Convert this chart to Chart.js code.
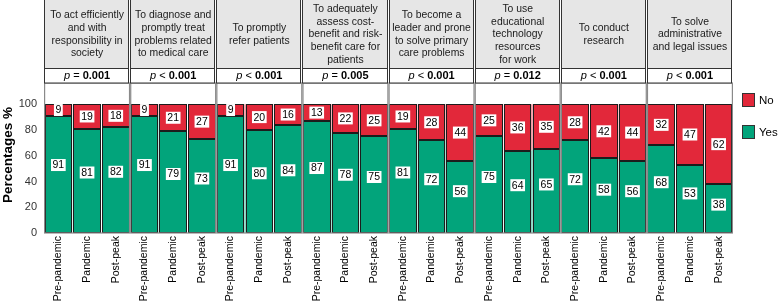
<!DOCTYPE html>
<html>
<head>
<meta charset="utf-8">
<script src="https://cdn.jsdelivr.net/npm/chart.js@4.4.1/dist/chart.umd.min.js"></script>
<style>
  html, body { margin: 0; padding: 0; background: #fff; }
</style>
</head>
<body>
<canvas id="chart" width="778" height="301"></canvas>
<script>
const panelTitles = [
    ['To act efficiently', 'and with', 'responsibility in', 'society'],
    ['To diagnose and', 'promptly treat', 'problems related', 'to medical care'],
    ['To promptly', 'refer patients'],
    ['To adequately', 'assess cost-', 'benefit and risk-', 'benefit care for', 'patients'],
    ['To become a', 'leader and prone', 'to solve primary', 'care problems'],
    ['To use', 'educational', 'technology', 'resources', 'for work'],
    ['To conduct', 'research'],
    ['To solve', 'administrative', 'and legal issues']
];
const pSigns = ['=', '<', '<', '=', '<', '=', '<', '<'];
const pValues = ['0.001', '0.001', '0.001', '0.005', '0.001', '0.012', '0.001', '0.001'];
const periods = ['Pre-pandemic', 'Pandemic', 'Post-peak'];

// three bars per panel, in panel order
const yesValues = [91, 81, 82, 91, 79, 73, 91, 80, 84, 87, 78, 75, 81, 72, 56, 75, 64, 65, 72, 58, 56, 68, 53, 38];
const noValues = [9, 19, 18, 9, 21, 27, 9, 20, 16, 13, 22, 25, 19, 28, 44, 25, 36, 35, 28, 42, 44, 32, 47, 62];

const green = '#02a47b';
const red = '#e2283a';
const outline = '#1c1c1c';
const family = '"Liberation Sans", Arial, Helvetica, sans-serif';

Chart.defaults.font.family = family;

const labels = [];
panelTitles.forEach(() => periods.forEach(p => labels.push(p)));

const facetPlugin = {
    id: 'facets',
    afterDatasetsDraw(chart) {
        const { ctx, chartArea: a, scales: { x, y } } = chart;
        const pw = (a.right - a.left) / panelTitles.length;
        ctx.save();

        // bar outlines
        ctx.strokeStyle = outline;
        ctx.lineWidth = 1;
        chart.data.datasets.forEach((ds, di) => {
            chart.getDatasetMeta(di).data.forEach(bar => {
                const p = bar.getProps(['x', 'y', 'base', 'width'], true);
                const left = Math.round(p.x - p.width / 2) + 0.5;
                const right = Math.round(p.x + p.width / 2) - 0.5;
                const top = Math.round(p.y) + 0.5;
                const bottom = Math.round(p.base) - 0.5;
                ctx.strokeRect(left, top, right - left, bottom - top);
            });
        });

        // panel borders
        ctx.strokeStyle = '#8a8a8a';
        ctx.lineWidth = 1.2;
        for (let k = 0; k < panelTitles.length; k++) {
            const x0 = a.left + k * pw;
            ctx.strokeRect(x0 + 0.6, a.top, pw - 1.2, a.bottom - a.top);
        }

        // value labels
        ctx.font = '10.5px ' + family;
        ctx.textAlign = 'center';
        ctx.textBaseline = 'middle';
        const box = (txt, cx, cy) => {
            const w = ctx.measureText(txt).width + 3;
            ctx.fillStyle = '#fff';
            ctx.fillRect(cx - w / 2, cy - 6, w, 12);
            ctx.fillStyle = '#000';
            ctx.fillText(txt, cx, cy + 0.5);
        };
        yesValues.forEach((v, i) => {
            const cx = x.getPixelForValue(i);
            box(String(v), cx, y.getPixelForValue(v * 0.58));
            box(String(noValues[i]), cx, y.getPixelForValue(v + noValues[i] * 0.5));
        });
        ctx.restore();
    },
    afterDraw(chart) {
        const { ctx, chartArea: a } = chart;
        const pw = (a.right - a.left) / panelTitles.length;
        ctx.save();

        for (let k = 0; k < panelTitles.length; k++) {
            const x0 = Math.round(a.left + k * pw) + 0.5;
            const x1 = Math.round(a.left + (k + 1) * pw) - 1.5;
            const cx = a.left + k * pw + pw / 2;

            // title strip
            ctx.fillStyle = '#e6e6e6';
            ctx.fillRect(x0, -2, x1 - x0, 70.5);
            ctx.strokeStyle = '#333';
            ctx.lineWidth = 1;
            ctx.strokeRect(x0, -2, x1 - x0, 70.5);

            ctx.fillStyle = '#1a1a1a';
            ctx.font = '10.4px ' + family;
            ctx.textAlign = 'center';
            ctx.textBaseline = 'middle';
            const lines = panelTitles[k];
            const lh = 12.6;
            const startY = 34.5 - (lines.length - 1) * lh / 2;
            lines.forEach((t, j) => ctx.fillText(t, cx, startY + j * lh));

            // p-value strip
            ctx.fillStyle = '#fff';
            ctx.fillRect(x0, 68.5, x1 - x0, 14.5);
            ctx.strokeRect(x0, 68.5, x1 - x0, 14.5);

            const pPart = 'p';
            const sPart = ' ' + pSigns[k] + ' ';
            const vPart = pValues[k];
            ctx.font = 'italic 11px ' + family;
            const w1 = ctx.measureText(pPart).width;
            ctx.font = '11px ' + family;
            const w2 = ctx.measureText(sPart).width;
            ctx.font = 'bold 11px ' + family;
            const w3 = ctx.measureText(vPart).width;
            let tx = cx - (w1 + w2 + w3) / 2;
            ctx.textAlign = 'left';
            ctx.fillStyle = '#000';
            ctx.font = 'italic 11px ' + family;
            ctx.fillText(pPart, tx, 76);
            tx += w1;
            ctx.font = '11px ' + family;
            ctx.fillText(sPart, tx, 76);
            tx += w2;
            ctx.font = 'bold 11px ' + family;
            ctx.fillText(vPart, tx, 76);
        }

        // y axis title
        ctx.save();
        ctx.translate(8.5, 155);
        ctx.rotate(-Math.PI / 2);
        ctx.font = 'bold 13.5px ' + family;
        ctx.textAlign = 'center';
        ctx.textBaseline = 'middle';
        ctx.fillStyle = '#000';
        ctx.fillText('Percentages %', 0, 0);
        ctx.restore();

        // legend
        const items = [['No', red, 93], ['Yes', green, 125]];
        ctx.font = '11.5px ' + family;
        ctx.textAlign = 'left';
        ctx.textBaseline = 'middle';
        items.forEach(([name, col, top]) => {
            ctx.fillStyle = col;
            ctx.fillRect(742, top, 13, 14);
            ctx.strokeStyle = '#333';
            ctx.lineWidth = 1;
            ctx.strokeRect(742.5, top + 0.5, 12, 13);
            ctx.fillStyle = '#000';
            ctx.fillText(name, 759, top + 7.5);
        });

        ctx.restore();
    }
};

new Chart(document.getElementById('chart'), {
    type: 'bar',
    data: {
        labels: labels,
        datasets: [
            {
                label: 'Yes',
                data: yesValues,
                backgroundColor: green,
                borderWidth: 0,
                barPercentage: 0.96,
                categoryPercentage: 1
            },
            {
                label: 'No',
                data: noValues,
                backgroundColor: red,
                borderWidth: 0,
                barPercentage: 0.96,
                categoryPercentage: 1
            }
        ]
    },
    options: {
        responsive: false,
        animation: false,
        devicePixelRatio: 1,
        layout: { padding: { top: 83, right: 45, left: 0, bottom: 0 } },
        plugins: {
            legend: { display: false },
            tooltip: { enabled: false }
        },
        scales: {
            x: {
                stacked: true,
                grid: { display: false, drawTicks: false },
                border: { display: false },
                ticks: {
                    autoSkip: false,
                    maxRotation: 90,
                    minRotation: 90,
                    padding: 3,
                    color: '#000',
                    font: { size: 10.5 }
                },
                afterFit(scale) { scale.height = 68; }
            },
            y: {
                stacked: true,
                min: 0,
                max: 116.5,
                grid: { display: false, drawTicks: false },
                border: { display: false },
                ticks: {
                    stepSize: 20,
                    padding: 7,
                    color: '#333',
                    font: { size: 11 }
                },
                afterBuildTicks(scale) {
                    scale.ticks = scale.ticks.filter(t => t.value % 20 === 0);
                },
                afterFit(scale) { scale.width = 44; }
            }
        }
    },
    plugins: [facetPlugin]
});
</script>
</body>
</html>
